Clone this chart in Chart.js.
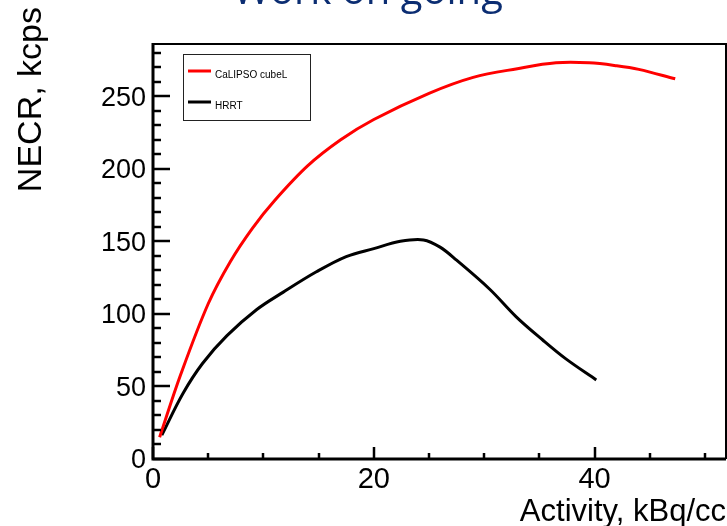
<!DOCTYPE html>
<html>
<head>
<meta charset="utf-8">
<script src="https://cdn.jsdelivr.net/npm/chart.js@4"></script>
<style>
  html, body { margin: 0; padding: 0; background: #fff; }
  #wrap { width: 727px; height: 526px; position: relative; }
</style>
</head>
<body>
<div id="wrap"><canvas id="myChart" width="727" height="526"></canvas></div>
<script>
// NECR vs activity
const calipsoX = [0.6, 2.5, 5, 7, 9, 11, 14, 17, 20, 25, 29, 33, 36.5, 39.5, 42, 44, 47.3]
const calipsoY = [15, 58, 107, 136, 159, 178, 202, 220, 234, 252, 263, 269, 273, 273, 271, 268.5, 262]
const hrrtX = [0.8, 2.7, 4.5, 6.7, 9.4, 11.8, 14.8, 17.5, 20, 22.4, 24.5, 26, 27.5, 30.5, 32.9, 35.3, 37.4, 40.15]
const hrrtY = [16.5, 45, 66, 85, 103, 115, 129, 139.5, 145, 150, 151, 146, 137, 117, 98, 82, 69, 54.5]
const xTickLabels = [0, 20, 40]
const yTickLabels = [0, 50, 100, 150, 200, 250]
const seriesNames = ['CaLIPSO cubeL', 'HRRT']
const seriesColors = ['#ff0000', '#000000']

const FONT = '"Liberation Sans", Arial, Helvetica, sans-serif'

function toPoints(xs, ys) {
  return xs.map((x, i) => ({ x: x, y: ys[i] }))
}

const framePlugin = {
  id: 'frame',
  afterDraw(chart) {
    const c = chart.ctx
    const a = chart.chartArea
    const xs = chart.scales.x
    const ys = chart.scales.y
    c.save()
    c.strokeStyle = '#000'
    c.lineCap = 'butt'

    // box
    c.lineWidth = 2
    c.beginPath()
    c.moveTo(a.left, a.top)
    c.lineTo(a.right, a.top)
    c.lineTo(a.right, a.bottom)
    c.stroke()
    c.lineWidth = 3
    c.beginPath()
    c.moveTo(a.left, a.top - 1)
    c.lineTo(a.left, a.bottom)
    c.lineTo(a.right, a.bottom)
    c.stroke()

    // y ticks, inside
    c.lineWidth = 2.5
    for (let v = 0; v <= ys.max; v += 10) {
      const py = Math.round(ys.getPixelForValue(v))
      const len = yTickLabels.includes(v) ? 17 : 8
      c.beginPath()
      c.moveTo(a.left, py)
      c.lineTo(a.left + len, py)
      c.stroke()
    }
    // x ticks, inside
    for (let v = 0; v <= xs.max; v += 5) {
      const px = Math.round(xs.getPixelForValue(v))
      const len = xTickLabels.includes(v) ? 12 : 6
      c.beginPath()
      c.moveTo(px, a.bottom)
      c.lineTo(px, a.bottom - len)
      c.stroke()
    }

    // legend box
    c.lineWidth = 1
    c.strokeStyle = '#222'
    c.strokeRect(183.5, 54.5, 127, 66)
    const rows = [71, 102]
    c.font = '10px ' + FONT
    c.textBaseline = 'middle'
    c.fillStyle = '#000'
    rows.forEach((ry, i) => {
      c.strokeStyle = seriesColors[i]
      c.lineWidth = 3
      c.beginPath()
      c.moveTo(188, ry)
      c.lineTo(211, ry)
      c.stroke()
      c.fillText(seriesNames[i], 215, ry + 4)
    })

    // axis titles
    c.fillStyle = '#000'
    c.font = '31px ' + FONT
    c.textAlign = 'right'
    c.textBaseline = 'alphabetic'
    c.fillText('Activity, kBq/cc', 726, 521)

    c.save()
    c.translate(41, 7)
    c.rotate(-Math.PI / 2)
    c.font = '34px ' + FONT
    c.textAlign = 'right'
    c.fillText('NECR, kcps', 0, 0)
    c.restore()

    // slide title, cut off at the top
    c.fillStyle = '#0b2d72'
    c.font = '40px "Open Sans", sans-serif'
    c.textAlign = 'left'
    c.textBaseline = 'alphabetic'
    c.fillText('Work on going', 233, 4)
    c.restore()
  }
}

const ctx = document.getElementById('myChart')
// eslint-disable-next-line no-unused-vars
const myChart = new Chart(ctx, {
  type: 'line',
  data: {
    datasets: [{
      label: seriesNames[0],
      data: toPoints(calipsoX, calipsoY),
      borderColor: seriesColors[0],
      borderWidth: 3,
      pointRadius: 0,
      tension: 0.35,
      fill: false
    }, {
      label: seriesNames[1],
      data: toPoints(hrrtX, hrrtY),
      borderColor: seriesColors[1],
      borderWidth: 3,
      pointRadius: 0,
      tension: 0.35,
      fill: false
    }]
  },
  options: {
    responsive: false,
    animation: false,
    devicePixelRatio: 1,
    layout: {
      padding: { top: 44, right: 1, left: 0, bottom: 0 }
    },
    scales: {
      x: {
        type: 'linear',
        min: 0,
        max: 51.9,
        border: { display: false },
        grid: { display: false, drawTicks: false },
        afterBuildTicks(scale) {
          scale.ticks = xTickLabels.map(v => ({ value: v }))
        },
        afterFit(scale) {
          scale.height = 67
        },
        ticks: {
          color: '#000',
          padding: 4,
          maxRotation: 0,
          font: { family: FONT, size: 29 }
        }
      },
      y: {
        type: 'linear',
        min: 0,
        max: 286,
        border: { display: false },
        grid: { display: false, drawTicks: false },
        afterBuildTicks(scale) {
          scale.ticks = yTickLabels.map(v => ({ value: v }))
        },
        afterFit(scale) {
          scale.width = 153
        },
        ticks: {
          color: '#000',
          padding: 7,
          labelOffset: 2,
          font: { family: FONT, size: 27 }
        }
      }
    },
    plugins: {
      legend: { display: false },
      tooltip: { enabled: false }
    }
  },
  plugins: [framePlugin]
})
</script>
</body>
</html>
